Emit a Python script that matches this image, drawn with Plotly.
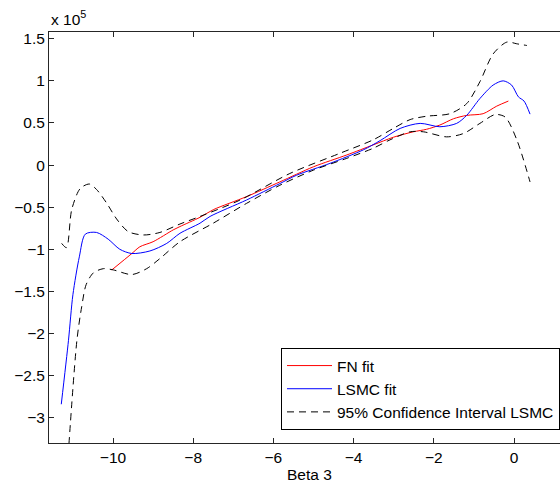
import plotly.graph_objects as go

# ---- data (y values in raw units) ----
fn_x = [-10.03, -9.53, -9.33, -9.0, -8.5, -8.33, -7.83, -7.5, -6.67, -5.84, -5.0, -4.17,
        -3.51, -3.01, -2.51, -2.18, -1.85, -1.51, -1.18, -0.77, -0.43, -0.14]
fn_y = [-124500, -105000, -97000, -91000, -77000, -73000, -62000, -53000, -37500, -20000,
        -2000, 12000, 24000, 33000, 39500, 42500, 47500, 55000, 59000, 61000, 70000, 76000]

lsmc_x = [-11.29, -11.11, -11.0, -10.84, -10.69, -10.41, -10.12, -9.83, -9.53, -9.08, -8.66,
          -8.33, -7.83, -7.58, -6.67, -5.84, -5.42, -4.59, -3.76, -3.34, -2.84, -2.34, -1.85,
          -1.43, -1.18, -0.85, -0.52, -0.27, -0.06, 0.11, 0.25, 0.40]
lsmc_y = [-284000, -208000, -154000, -109000, -82000, -80000, -88000, -100000, -105000,
          -102000, -93000, -81000, -69000, -61000, -41500, -22000, -12000, 2000, 18000,
          29000, 43500, 49500, 45500, 49500, 59000, 79000, 95000, 100000, 95000, 81000,
          76000, 60500]

ci_up_x = [-11.28, -11.16, -11.03, -10.82, -10.59, -10.41, -10.16, -9.91, -9.62, -9.24, -8.83,
           -8.33, -7.83, -6.83, -5.59, -4.34, -3.51, -3.01, -2.59, -2.18, -1.6, -1.18, -0.85,
           -0.52, -0.18, 0.07, 0.32]
ci_up_y = [-93000, -98000, -53000, -28000, -22500, -29000, -45000, -64000, -79000, -83000,
           -80000, -70000, -61000, -41500, -10000, 14000, 30000, 43500, 54000, 58000, 61000,
           73000, 99000, 132000, 146000, 144000, 142000]

ci_lo_x = [-11.14, -10.9, -10.78, -10.67, -10.49, -10.24, -9.99, -9.53, -9.16, -8.83, -8.33,
           -7.5, -6.67, -5.84, -5.0, -4.17, -3.51, -3.09, -2.59, -2.26, -1.68, -1.26, -0.85,
           -0.47, -0.22, 0.07, 0.40]
ci_lo_y = [-360000, -208000, -168000, -142000, -128000, -123000, -124500, -130000, -123000,
           -111000, -91000, -69000, -45500, -24000, -6000, 8000, 20000, 30000, 39500, 39500,
           33500, 37500, 49500, 60000, 57000, 30000, -20000]

x_ticks = [-10, -8, -6, -4, -2, 0]
y_ticks = [-300000, -250000, -200000, -150000, -100000, -50000, 0, 50000, 100000, 150000]
y_tick_text = ["\u22123", "\u22122.5", "\u22122", "\u22121.5", "\u22121", "\u22120.5", "0",
               "0.5", "1", "1.5"]
x_tick_text = ["\u221210", "\u22128", "\u22126", "\u22124", "\u22122", "0"]

FONT = "Liberation Sans, Arial, sans-serif"
FS = 15.5
LFS = 15.5

fig = go.Figure()
fig.add_trace(go.Scatter(x=fn_x, y=fn_y, mode="lines", name="FN fit", legendgroup="a",
                         line=dict(color="#ff0000", width=1, shape="spline", smoothing=0.8)))
fig.add_trace(go.Scatter(x=lsmc_x, y=lsmc_y, mode="lines", name="LSMC fit", legendgroup="b",
                         line=dict(color="#0000ff", width=1, shape="spline", smoothing=0.8)))
fig.add_trace(go.Scatter(x=ci_up_x, y=ci_up_y, mode="lines", name="95% Confidence Interval LSMC",
                         legendgroup="c",
                         line=dict(color="black", width=1, dash="7px,5px", shape="spline", smoothing=0.8)))
fig.add_trace(go.Scatter(x=ci_lo_x, y=ci_lo_y, mode="lines", showlegend=False, legendgroup="c",
                         line=dict(color="black", width=1, dash="7px,5px", shape="spline", smoothing=0.8)))

ml, mt, mb, mr = 49, 32, 43, 0
W, H = 560, 486
pw = W - ml - mr
ph = H - mt - mb

fig.update_layout(
    width=W, height=H,
    margin=dict(l=ml, r=mr, t=mt, b=mb),
    paper_bgcolor="white", plot_bgcolor="white",
    font=dict(family=FONT, size=FS, color="black"),
    showlegend=True,
    legend=dict(x=1.0, xanchor="right", y=(H - mb - 348) / ph, yanchor="top",
                bgcolor="white", bordercolor="black", borderwidth=1, itemwidth=45,
                font=dict(family=FONT, size=LFS, color="black"), tracegroupgap=0),
    xaxis=dict(range=[-11.596, 1.147], tickvals=x_ticks, ticktext=x_tick_text,
               ticks="inside", ticklen=5, tickcolor="#262626", showline=True,
               linecolor="#262626", linewidth=1, mirror="ticks", showgrid=False,
               zeroline=False, tickfont=dict(family=FONT, size=FS, color="black")),
    yaxis=dict(range=[-330000, 158000], tickvals=y_ticks, ticktext=y_tick_text,
               ticks="inside", ticklen=5, tickcolor="#262626", showline=True,
               linecolor="#262626", linewidth=1, showgrid=False, zeroline=False,
               tickfont=dict(family=FONT, size=FS, color="black")),
    annotations=[
        dict(text="Beta 3", xref="paper", yref="paper", x=(309 - ml) / pw, y=-(475 - (H - mb)) / ph,
             xanchor="center", yanchor="middle", showarrow=False,
             font=dict(family=FONT, size=FS, color="black")),
        dict(text="x 10<sup>5</sup>", xref="paper", yref="paper", x=0, y=(H - mb - 18) / ph,
             xanchor="left", yanchor="middle", showarrow=False,
             font=dict(family=FONT, size=FS, color="black")),
    ],
)

fig.write_html("out.html")
